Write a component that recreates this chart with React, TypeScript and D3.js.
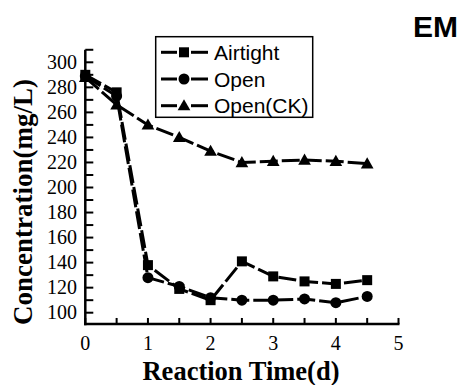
import * as d3 from 'd3'

const days = [0, 0.5, 1, 1.5, 2, 2.5, 3, 3.5, 4, 4.5]
const airtight = [290, 276, 138, 119, 110, 141, 129, 125, 123, 126]
const open = [289, 273, 128, 121, 112, 110, 110, 111, 108, 113]
const openCK = [288, 266, 250, 240, 229, 220, 221, 222, 221, 219]
const seriesNames = ['Airtight', 'Open', 'Open(CK)']
const xTickLabels = [0, 1, 2, 3, 4, 5]
const yTickLabels = [100, 120, 140, 160, 180, 200, 220, 240, 260, 280, 300]

const W = 459
const H = 385
const serif = "'Liberation Serif', 'Times New Roman', serif"
const sans = "'Liberation Sans', Arial, sans-serif"

export default function App() {
  const x = d3.scaleLinear().domain([0, 5]).range([85.3, 398.5])
  const y = d3.scaleLinear().domain([100, 300]).range([312.7, 62.3])
  const yMin = 91
  const yMax = 310

  const series = [airtight, open, openCK]
  const line = d3
    .line<number>()
    .x((_, i) => x(days[i]))
    .y((d) => y(d))

  const marker = (kind: number, cx: number, cy: number, key: string) => {
    if (kind === 0) return <rect key={key} x={cx - 5} y={cy - 5} width={10} height={10} fill="#000" />
    if (kind === 1) return <circle key={key} cx={cx} cy={cy} r={5.5} fill="#000" />
    const t = d3.symbol().type(d3.symbolTriangle).size(70)()
    return <path key={key} d={t as string} transform={`translate(${cx},${cy + 1})`} fill="#000" />
  }

  const yTicks = d3.range(100, 311, 10)
  const xTicks = d3.range(0, 5.01, 0.5)
  const bottom = y(yMin)

  return (
    <svg width={W} height={H} style={{ position: 'absolute', left: 0, top: 0 }}>
      <rect width={W} height={H} fill="#fff" />
      <text x={413} y={36.5} fontFamily={sans} fontWeight="bold" fontSize={30}>EM</text>

      {/* axes */}
      <line x1={x(0)} x2={x(0)} y1={y(yMax)} y2={bottom + 1.2} stroke="#000" strokeWidth={2.5} />
      <line x1={x(0) - 1.2} x2={x(5) + 1} y1={bottom} y2={bottom} stroke="#000" strokeWidth={2.5} />
      {yTicks.map((t) => (
        <line key={'yt' + t} x1={x(0)} x2={x(0) + 8} y1={y(t)} y2={y(t)} stroke="#000" strokeWidth={2} />
      ))}
      {xTicks.map((t) => (
        <line key={'xt' + t} x1={x(t)} x2={x(t)} y1={bottom} y2={bottom - 6} stroke="#000" strokeWidth={2} />
      ))}
      {yTickLabels.map((t) => (
        <text key={'yl' + t} x={77} y={y(t) + 6.5} textAnchor="end" fontFamily={serif} fontSize={20}>{t}</text>
      ))}
      {xTickLabels.map((t) => (
        <text key={'xl' + t} x={x(t)} y={350} textAnchor="middle" fontFamily={serif} fontSize={20}>{t}</text>
      ))}
      <text x={241} y={380} textAnchor="middle" fontFamily={serif} fontWeight="bold" fontSize={26.5}>Reaction Time(d)</text>
      <text transform={`translate(32,202) rotate(-90)`} textAnchor="middle" fontFamily={serif} fontWeight="bold" fontSize={27}>Concentration(mg/L)</text>

      {/* series */}
      {series.map((s, k) => (
        <path key={'ln' + k} d={line(s) as string} fill="none" stroke="#000" strokeWidth={3} strokeDasharray="18,4" />
      ))}
      {series.map((s, k) => s.map((v, i) => marker(k, x(days[i]), y(v), `m${k}-${i}`)))}

      {/* legend */}
      <rect x={155.7} y={36.7} width={157} height={80.6} fill="#fff" stroke="#000" strokeWidth={1.5} />
      {seriesNames.map((name, k) => {
        const ly = 52.3 + k * 26.7
        return (
          <g key={'lg' + k}>
            <line x1={161} x2={177} y1={ly} y2={ly} stroke="#000" strokeWidth={3} />
            <line x1={191} x2={208} y1={ly} y2={ly} stroke="#000" strokeWidth={3} />
            {marker(k, 184, ly, 'lm' + k)}
            <text x={214} y={ly + 7.5} fontFamily={sans} fontSize={21}>{name}</text>
          </g>
        )
      })}
    </svg>
  )
}
